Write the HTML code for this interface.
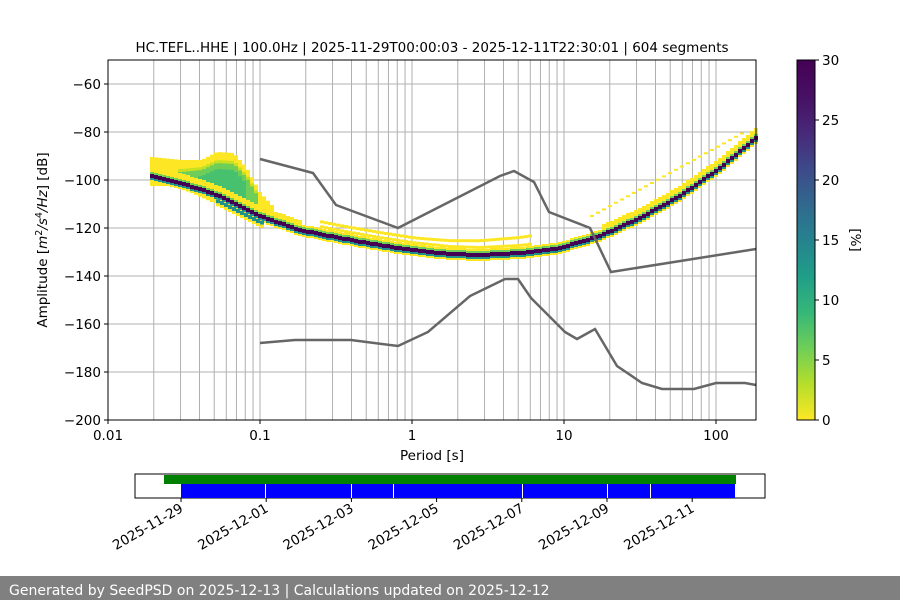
<!DOCTYPE html>
<html><head><meta charset="utf-8"><style>
body{margin:0;background:#fff;}
svg{display:block;font-family:"DejaVu Sans","Liberation Sans",sans-serif;}
</style></head><body>
<svg id="s" width="900" height="600" xmlns="http://www.w3.org/2000/svg">
<rect width="900" height="600" fill="#fff"/>
<g id="grid"></g>
<g id="dens"></g>
<g id="curves" fill="none" stroke="#666" stroke-width="2.5">
<polyline points="260,159 313,173 336,205 398,228 500,176 514,171 534,182 549,212 590,228 611,272 756,249"/>
<polyline points="260,343 295,340 351,340 398,346 428,332 470,296 505,279 518,279 531,298 565,332 577,339 595,329 617,366 642,383 662,389 694,389 716,383 745,383 756,385"/>
</g>
<rect x="108" y="60" width="648" height="360" fill="none" stroke="#000" stroke-width="1"/>
<g id="ticks"></g>
<text x="432" y="52" font-size="13.5" text-anchor="middle">HC.TEFL..HHE | 100.0Hz | 2025-11-29T00:00:03 - 2025-12-11T22:30:01 | 604 segments</text>
<text x="432" y="460" font-size="13.5" text-anchor="middle">Period [s]</text>
<text transform="translate(47,240) rotate(-90)" font-size="13.5" text-anchor="middle">Amplitude [<tspan font-style="italic">m</tspan><tspan dy="-5" font-size="9.5">2</tspan><tspan dy="5" font-style="italic">/s</tspan><tspan dy="-5" font-size="9.5">4</tspan><tspan dy="5" font-style="italic">/Hz</tspan>] [dB]</text>
<defs><linearGradient id="vir" x1="0" y1="1" x2="0" y2="0">
<stop offset="0" stop-color="#fde725"/><stop offset="0.1" stop-color="#b5de2b"/><stop offset="0.2" stop-color="#6ece58"/><stop offset="0.3" stop-color="#35b779"/><stop offset="0.4" stop-color="#1f9e89"/><stop offset="0.5" stop-color="#26828e"/><stop offset="0.6" stop-color="#31688e"/><stop offset="0.7" stop-color="#3e4989"/><stop offset="0.8" stop-color="#482878"/><stop offset="0.9" stop-color="#471063"/><stop offset="1" stop-color="#440154"/></linearGradient></defs>
<rect x="797" y="60" width="18" height="360" fill="url(#vir)" stroke="#000" stroke-width="1"/>
<g id="cb" font-size="13.5"></g>
<text transform="translate(851,240) rotate(90)" font-size="13.5" text-anchor="middle">[%]</text>
<rect x="135" y="474" width="630" height="24" fill="#fff" stroke="#000" stroke-width="1"/>
<rect x="164" y="475" width="572" height="9" fill="#008000"/>
<rect x="181" y="484" width="554" height="14" fill="#0000ff"/>
<g stroke="#fff" stroke-width="1"><line x1="265.5" y1="484" x2="265.5" y2="498"/><line x1="351.5" y1="484" x2="351.5" y2="498"/><line x1="393.5" y1="484" x2="393.5" y2="498"/><line x1="522.5" y1="484" x2="522.5" y2="498"/><line x1="607.5" y1="484" x2="607.5" y2="498"/><line x1="650.5" y1="484" x2="650.5" y2="498"/></g>
<g id="dt" font-size="13.5"></g>
<rect x="0" y="576" width="900" height="24" fill="#808080"/>
<text x="9" y="595" font-size="14" fill="#fff">Generated by SeedPSD on 2025-12-13 | Calculations updated on 2025-12-12</text>
</svg>
<script>
var NS="http://www.w3.org/2000/svg";
function el(p,t,a,txt){var e=document.createElementNS(NS,t);for(var k in a)e.setAttribute(k,a[k]);if(txt!=null)e.textContent=txt;document.getElementById(p).appendChild(e);return e;}
function X(p){return 108+152*(Math.log10(p)+2);}
function Y(d){return 420-(d+200)*2.4;}
for(var dec=-2;dec<=2;dec++)for(var m=1;m<=9;m++){var p=m*Math.pow(10,dec);var x=X(p);if(x<=108.5||x>=756)continue;if(p<0.02)continue;
el("grid","line",{x1:x,y1:60,x2:x,y2:420,stroke:"#b0b0b0","stroke-width":1});}
for(var d=-180;d<=-60;d+=20)el("grid","line",{x1:108,y1:Y(d),x2:756,y2:Y(d),stroke:"#b0b0b0","stroke-width":1});
for(var d=-200;d<=-60;d+=20){el("ticks","line",{x1:104,y1:Y(d),x2:108,y2:Y(d),stroke:"#000"});el("ticks","text",{x:101,y:Y(d)+5,"text-anchor":"end","font-size":13.5},"\u2212"+(-d));}
var xl=[[0.01,"0.01"],[0.1,"0.1"],[1,"1"],[10,"10"],[100,"100"]];
xl.forEach(function(a){var x=X(a[0]);el("ticks","line",{x1:x,y1:420,x2:x,y2:424,stroke:"#000"});el("ticks","text",{x:x,y:440,"text-anchor":"middle","font-size":13.5},a[1]);});
for(var v=0;v<=30;v+=5){var y=420-v*12;el("cb","line",{x1:815,y1:y,x2:819,y2:y,stroke:"#000"});el("cb","text",{x:822,y:y+5},v);}
var dates=["2025-11-29","2025-12-01","2025-12-03","2025-12-05","2025-12-07","2025-12-09","2025-12-11"];
dates.forEach(function(s,i){var x=181+85.2*i;el("dt","line",{x1:x,y1:498,x2:x,y2:502,stroke:"#000"});el("dt","text",{transform:"translate("+(x+3)+",511) rotate(-30)","text-anchor":"end"},s);});
var pts=[[150,176],[180,183],[200,189],[220,196],[260,216],[300,230],[340,238],[380,245],[412,250],[450,254],[480,255],[520,253],[560,248],[600,236],[640,218],[680,196],[720,168],[756,138]];
function interp(P,x){if(x<=P[0][0])return P[0][1];for(var i=0;i<P.length-1;i++){if(x<=P[i+1][0]){var t=(x-P[i][0])/(P[i+1][0]-P[i][0]);return P[i][1]+t*(P[i+1][1]-P[i][1]);}}return P[P.length-1][1];}
function cy(x){return interp(pts,x);}
function R(x,y,w,h,c){if(h>0)el("dens","rect",{x:x,y:y,width:w,height:h,fill:c});}
var Yl="#fde725",G="#6ece58",T="#21918c",D="#440154",Yg="#c8e020";
var btop=[[150,157],[180,160],[200,160],[215,152],[232,153],[245,168],[258,192],[270,205]];
var bbot=[[170,186],[190,193],[210,202],[230,207],[250,216],[270,222]];
var gtop=[[180,172],[200,170],[215,163],[232,164],[245,178],[258,200]];
var gbot=[[180,183],[200,192],[220,200],[240,205],[255,212]];
for(var x=150;x<272;x+=4){var t=interp(btop,x),b=Math.max(cy(x+2),interp(bbot,x));R(x,t,4,b-t,Yl);
 if(x>=176&&x<258){var gt=interp(gtop,x),gb=interp(gbot,x);R(x,gt-3,4,gb-gt+6,Yg);R(x,gt,4,gb-gt,G);if(x>=196&&x<244)R(x,gt+6,4,gb-gt-10,"#48c16e");}}
for(var x=150;x<756;x+=4){var y=Math.round(cy(x+2));
 var up=(x<300)?10:(x<560?6:(x>600?10:6));
 R(x,y-up,4,up-4,Yl);R(x,y-4,4,2,G);R(x,y-2,4,4,D);R(x,y+2,4,2,T);R(x,y+4,4,2,Yl);}
for(var x=216;x<262;x+=4){var y=cy(x+2);R(x,y+4,4,4,T);R(x,y+8,4,3,Yl);}
for(var x=320;x<530;x+=4){var y=cy(x+2);R(x,y-14-(x<420?0:(x-420)*0.03),4,3,Yl);R(x,y-9,4,3,Yl);}
for(var x=590;x<745;x+=6){var y=215-(x-590)*0.55;R(x,y,4,2,Yl);}
</script>
</body></html>
